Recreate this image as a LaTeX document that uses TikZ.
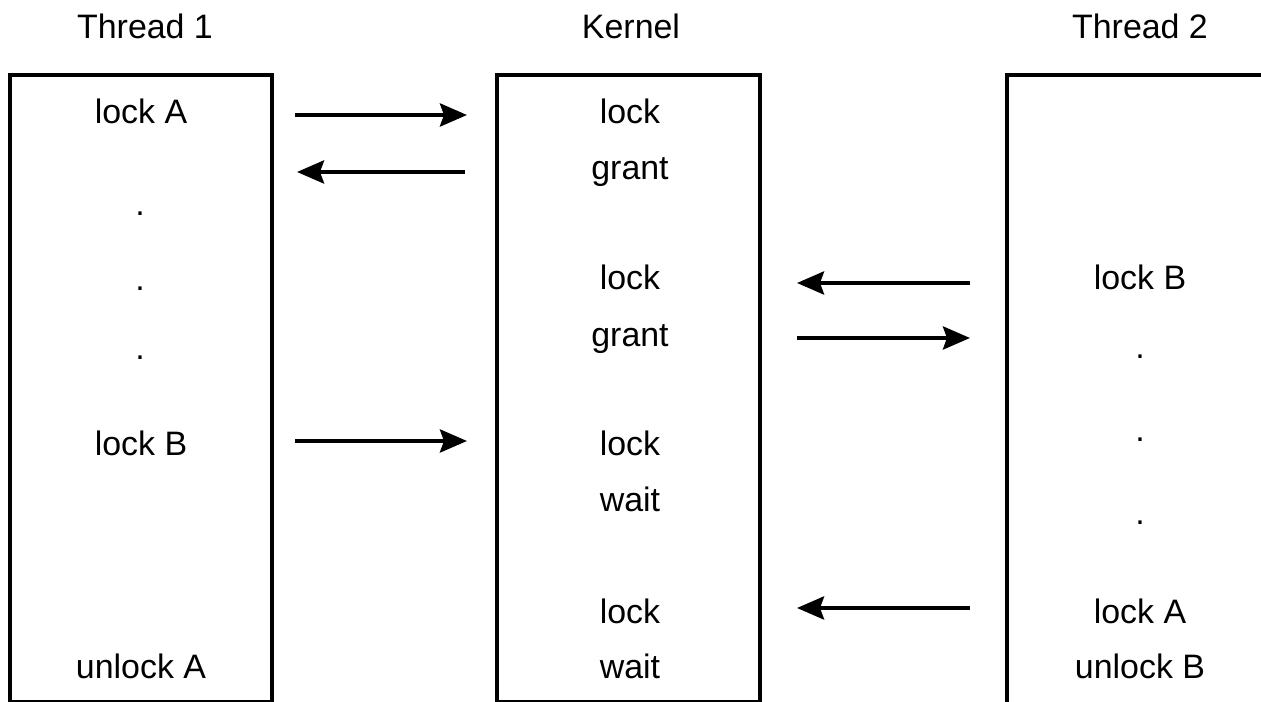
\documentclass[tikz,border=0pt]{standalone}
\usepackage{fontspec}
\setmainfont{Liberation Sans}
\usetikzlibrary{arrows.meta}
\tikzset{
  column/.style={line width=0.08cm},
  label/.style={anchor=base, inner sep=0pt, font=\fontsize{19.3}{23}\selectfont},
  msg/.style={line width=0.08cm, -{Stealth[length=0.54cm,width=0.46cm,inset=0.08cm]}}
}
\begin{document}
\begin{tikzpicture}
\useasboundingbox (0,0) rectangle (25.22,14.04);

% Drawing the three columns
\draw [column] (0.20,0.00) rectangle (5.44,12.54);%
\draw [column] (9.94,0.00) rectangle (15.20,12.54);%
\draw [column] (20.14,0.00) -- (20.14,12.54) -- (25.40,12.54);%

% Titles
\node [label] (t1) at (2.90,13.26) {Thread 1};%
\node [label] (kn) at (12.62,13.26) {Kernel};%
\node [label] (t2) at (22.80,13.26) {Thread 2};%

% Thread 1 column
\node [label] (t1lockA) at (2.82,11.56) {lock A};%
\node [label] (t1dotA) at (2.80,9.72) {.};%
\node [label] (t1dotB) at (2.80,8.22) {.};%
\node [label] (t1dotC) at (2.80,6.84) {.};%
\node [label] (t1lockB) at (2.82,4.92) {lock B};%
\node [label] (t1unlockA) at (2.82,0.46) {unlock A};%

% Kernel column
\node [label] (klockA) at (12.60,11.56) {lock};%
\node [label] (kgrantA) at (12.60,10.44) {grant};%
\node [label] (klockB) at (12.60,8.24) {lock};%
\node [label] (kgrantB) at (12.60,7.10) {grant};%
\node [label] (klockC) at (12.60,4.92) {lock};%
\node [label] (kwaitC) at (12.60,3.80) {wait};%
\node [label] (klockD) at (12.60,1.56) {lock};%
\node [label] (kwaitD) at (12.60,0.46) {wait};%

% Thread 2 column
\node [label] (t2lockB) at (22.80,8.24) {lock B};%
\node [label] (t2dotA) at (22.80,6.86) {.};%
\node [label] (t2dotB) at (22.80,5.20) {.};%
\node [label] (t2dotC) at (22.80,3.54) {.};%
\node [label] (t2lockA) at (22.80,1.56) {lock A};%
\node [label] (t2unlockB) at (22.80,0.46) {unlock B};%

% Arrow ends
\coordinate (l1) at (5.90,11.74);  \coordinate (k1) at (9.34,11.74);
\coordinate (l2) at (5.94,10.60);  \coordinate (k2) at (9.30,10.60);
\coordinate (k3) at (15.94,8.38);  \coordinate (r3) at (19.40,8.38);
\coordinate (k4) at (15.94,7.28);  \coordinate (r4) at (19.40,7.28);
\coordinate (l5) at (5.90,5.22);   \coordinate (k5) at (9.34,5.22);
\coordinate (k6) at (15.94,1.88);  \coordinate (r6) at (19.40,1.88);

% Drawing the messages
\draw [msg] (l1) -- (k1);%
\draw [msg] (k2) -- (l2);%
\draw [msg] (r3) -- (k3);%
\draw [msg] (k4) -- (r4);%
\draw [msg] (l5) -- (k5);%
\draw [msg] (r6) -- (k6);%
\end{tikzpicture}
\end{document}
